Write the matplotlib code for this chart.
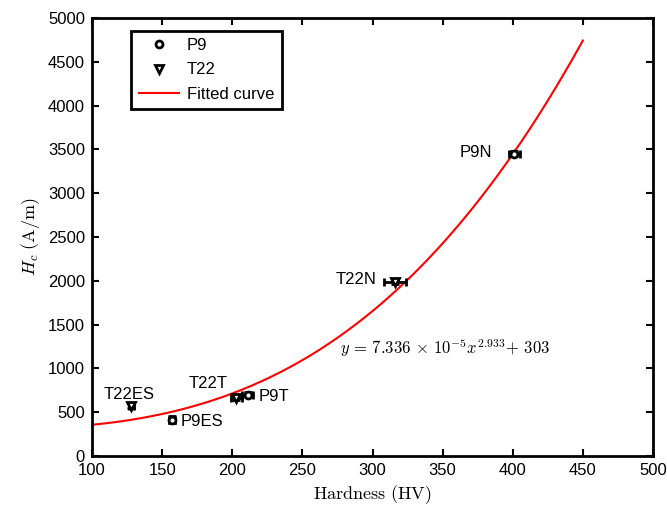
import numpy as np
import matplotlib
matplotlib.use("Agg")
import matplotlib.pyplot as plt
from matplotlib.lines import Line2D

plt.rcParams['font.family'] = ['Liberation Sans', 'DejaVu Sans']
plt.rcParams['mathtext.fontset'] = 'cm'

# Data
p9_labels = ["P9ES", "P9T", "P9N"]
p9_hv = [157, 211, 401]
p9_hc = [415, 700, 3450]
p9_hv_err = [2, 4, 4]
p9_hc_err = [40, 30, 30]

t22_labels = ["T22ES", "T22T", "T22N"]
t22_hv = [128, 203, 316]
t22_hc = [575, 665, 1985]
t22_hv_err = [2, 4, 8]
t22_hc_err = [30, 30, 25]

# Fitted curve parameters: y = a * x^b + c
fit_a = 7.336e-5
fit_b = 2.933
fit_c = 303
fit_xmin, fit_xmax = 100, 450

fig = plt.figure(figsize=(6.67, 5.13), dpi=100)
ax = fig.add_axes([0.138, 0.111, 0.841, 0.854])

xf = np.linspace(fit_xmin, fit_xmax, 300)
yf = fit_a * xf ** fit_b + fit_c
ax.plot(xf, yf, color='red', lw=1.5, zorder=2)

ax.errorbar(p9_hv, p9_hc, xerr=p9_hv_err, yerr=p9_hc_err, fmt='o', mfc='white',
            mec='black', mew=2, ms=5, ecolor='black', elinewidth=2, capsize=3,
            capthick=2, zorder=3)
ax.errorbar(t22_hv, t22_hc, xerr=t22_hv_err, yerr=t22_hc_err, fmt='v', mfc='white',
            mec='black', mew=2, ms=6, ecolor='black', elinewidth=2, capsize=3,
            capthick=2, zorder=3)

fs = 12
ax.text(108, 700, "T22ES", fontsize=fs, ha='left', va='center')
ax.text(163, 400, "P9ES", fontsize=fs, ha='left', va='center')
ax.text(169, 825, "T22T", fontsize=fs, ha='left', va='center')
ax.text(219, 685, "P9T", fontsize=fs, ha='left', va='center')
ax.text(303, 2010, "T22N", fontsize=fs, ha='right', va='center')
ax.text(362, 3470, "P9N", fontsize=fs, ha='left', va='center')
ax.text(277, 1235, r'$y\,=\,7.336\,\times\,10^{-5}x^{2.933}\!+\,303$', fontsize=12,
        ha='left', va='center')

ax.set_xlim(100, 500)
ax.set_ylim(0, 5000)
ax.set_xticks(np.arange(100, 501, 50))
ax.set_yticks(np.arange(0, 5001, 500))
ax.tick_params(direction='in', labelsize=12, width=1.5, length=5,
               top=True, right=True, pad=5)
for s in ax.spines.values():
    s.set_linewidth(2)

ax.set_xlabel(r'$\mathrm{Hardness\ (HV)}$', fontsize=13)
ax.set_ylabel(r'$H_c\ \mathrm{(A/m)}$', fontsize=13)

handles = [
    Line2D([], [], ls='none', marker='o', mfc='white', mec='black', mew=2, ms=5),
    Line2D([], [], ls='none', marker='v', mfc='white', mec='black', mew=2, ms=6),
    Line2D([], [], color='red', lw=1.5),
]
leg = ax.legend(handles, ['P9', 'T22', 'Fitted curve'], loc='upper left',
                bbox_to_anchor=(0.055, 0.99), fontsize=12, fancybox=False,
                edgecolor='black', framealpha=1, handlelength=2.4,
                borderpad=0.45, labelspacing=0.55, handletextpad=0.5)
leg.get_frame().set_linewidth(2)

fig.savefig("out.png", dpi=100)
